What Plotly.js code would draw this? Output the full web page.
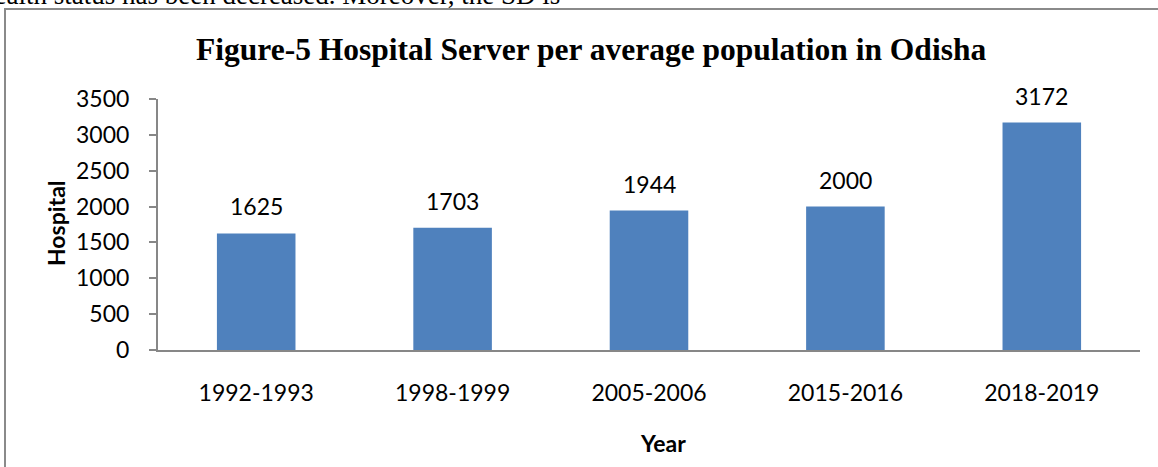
<!DOCTYPE html>
<html>
<head>
<meta charset="utf-8">
<script src="https://cdn.plot.ly/plotly-3.0.1.min.js"></script>
<style>html,body{margin:0;padding:0;background:#fff;}#chart{width:1158px;height:467px;}</style>
</head>
<body>
<div id="chart"></div>
<script>
const years = ["1992-1993", "1998-1999", "2005-2006", "2015-2016", "2018-2019"];
const hospitalServed = [1625, 1703, 1944, 2000, 3172];
const yTicks = [0, 500, 1000, 1500, 2000, 2500, 3000, 3500];
const chartTitle = "Figure-5 Hospital Server per average population in Odisha";
const xTitle = "Year";
const yTitle = "Hospital";
const pageText = "health status has been decreased. Moreover, the SD is";

const W = 1158, H = 467;
const L = 158, R = 18, T = 99, B = 117;
const pw = W - L - R, ph = H - T - B;
const px = x => (x - L) / pw;
const py = y => (H - B - y) / ph;

const labelFont = {family: "Lato, 'Open Sans', sans-serif", size: 23, color: "#000"};

const trace = {
  type: "bar",
  x: years,
  y: hospitalServed,
  marker: {color: "#4F81BD"},
  width: 0.4,
  hoverinfo: "x+y"
};

const valueLabels = years.map((c, i) => ({
  x: c, y: hospitalServed[i], xref: "x", yref: "y",
  text: String(hospitalServed[i]), showarrow: false,
  yanchor: "middle", yshift: 27, font: labelFont
}));

const layout = {
  width: W, height: H,
  margin: {l: L, r: R, t: T, b: B, pad: 0},
  paper_bgcolor: "#fff", plot_bgcolor: "#fff",
  showlegend: false,
  bargap: 0.6,
  xaxis: {
    type: "category",
    showline: true, linecolor: "#878787", linewidth: 2,
    ticks: "", showgrid: false, zeroline: false,
    tickfont: labelFont,
    ticklabelstandoff: 21
  },
  yaxis: {
    range: [0, 3500],
    tickvals: yTicks,
    showline: true, linecolor: "#878787", linewidth: 2,
    ticks: "outside", ticklen: 7, tickwidth: 2, tickcolor: "#878787",
    showgrid: false, zeroline: false,
    tickfont: labelFont,
    ticklabelstandoff: 15
  },
  shapes: [{
    type: "rect", xref: "paper", yref: "paper",
    x0: px(5), x1: px(1162), y0: py(472), y1: py(9),
    line: {color: "#8a8a8a", width: 2}, fillcolor: "rgba(0,0,0,0)", layer: "below"
  }],
  annotations: valueLabels.concat([
    {
      xref: "paper", yref: "paper", x: px(591), y: py(50),
      xanchor: "center", yanchor: "middle", showarrow: false,
      text: "<b>" + chartTitle + "</b>",
      font: {family: "'Liberation Serif', 'Times New Roman', serif", size: 31.5, color: "#000"}
    },
    {
      xref: "paper", yref: "paper", x: px(663), y: py(443),
      xanchor: "center", yanchor: "middle", showarrow: false,
      text: "<b>" + xTitle + "</b>",
      font: {family: "Lato, 'Open Sans', sans-serif", size: 23, color: "#000"}
    },
    {
      xref: "paper", yref: "paper", x: px(56), y: py(223),
      xanchor: "center", yanchor: "middle", showarrow: false, textangle: -90,
      text: "<b>" + yTitle + "</b>",
      font: {family: "Lato, 'Open Sans', sans-serif", size: 23, color: "#000"}
    },
    {
      xref: "paper", yref: "paper", x: px(562), y: py(12),
      xanchor: "right", yanchor: "bottom", showarrow: false,
      text: pageText,
      font: {family: "'Liberation Serif', 'Times New Roman', serif", size: 27, color: "#000"}
    }
  ])
};

Plotly.newPlot("chart", [trace], layout, {displayModeBar: false, staticPlot: true});
</script>
</body>
</html>
